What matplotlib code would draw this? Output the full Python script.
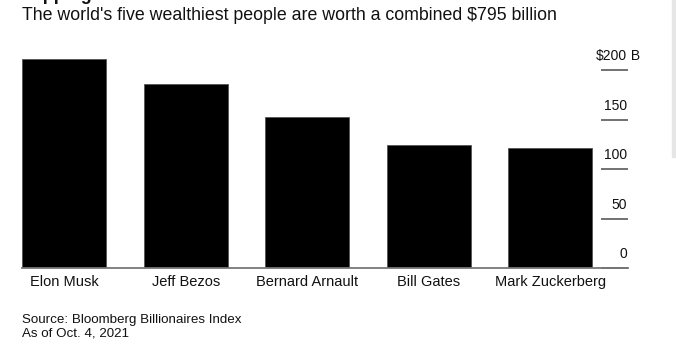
import matplotlib.pyplot as plt
from matplotlib.patches import Rectangle

# Data
names = ['Elon Musk', 'Jeff Bezos', 'Bernard Arnault', 'Bill Gates', 'Mark Zuckerberg']
net_worth = [211, 186, 153, 124, 121]  # billions USD
y_ticks = [0, 50, 100, 150, 200]
y_tick_labels = ['0', '50', '100', '150', '$200']

plt.rcParams['font.family'] = ['Liberation Sans', 'DejaVu Sans']

W, H = 676, 355
fig = plt.figure(figsize=(W / 100, H / 100), dpi=100)

# axes placed in pixel terms: x 22..628, y baseline at 268.3, top at 50
left, right, bottom_px, top_px = 22, 628, 268.3, 50
ax = fig.add_axes([left / W, (H - bottom_px) / H, (right - left) / W, (bottom_px - top_px) / H])

px_per_unit = 0.9915
ax.set_ylim(0, (bottom_px - top_px) / px_per_unit)
ax.set_xlim(-0.3477, -0.3477 + (right - left) / 121.5)

ax.bar(range(len(names)), net_worth, width=0.695, color='black',
       edgecolor='#555555', linewidth=0.6, zorder=2)

# Spines
for s in ['top', 'left', 'right']:
    ax.spines[s].set_visible(False)
ax.spines['bottom'].set_color('#777777')
ax.spines['bottom'].set_linewidth(1.3)

# Category labels
ax.set_xticks(range(len(names)))
ax.set_xticklabels(names, fontsize=10.5, color='#111111')
ax.tick_params(axis='x', length=0, pad=5)

# Right-side short tick lines with labels sitting above them
ax.yaxis.tick_right()
ax.set_yticks(y_ticks)
ax.set_yticklabels([])
ax.tick_params(axis='y', direction='in', length=19.5, width=1.3, color='#666666')
for v, lab in zip(y_ticks, y_tick_labels):
    ax.text(0.998, v + 14, lab, transform=ax.get_yaxis_transform(),
            ha='right', va='center', fontsize=10, color='#111111', clip_on=False)
ax.text(0.998, y_ticks[-1] + 14, ' B', transform=ax.get_yaxis_transform(),
        ha='left', va='center', fontsize=10, color='#111111', clip_on=False)

# Cut-off title (only descenders show, as in the reference) and subtitle
fig.text(22 / W, (H + 0.5) / H, 'Topping the Charts', fontsize=13, fontweight='bold',
         ha='left', va='baseline', color='#111111')
fig.text(22 / W, (H - 20.5) / H,
         "The world's five wealthiest people are worth a combined $795 billion",
         fontsize=12.8, ha='left', va='baseline', color='#111111')

# Footer
fig.text(22 / W, (H - 323.5) / H, 'Source: Bloomberg Billionaires Index',
         fontsize=9.6, ha='left', va='baseline', color='#111111')
fig.text(22 / W, (H - 337) / H, 'As of Oct. 4, 2021',
         fontsize=9.6, ha='left', va='baseline', color='#111111')

# light gray strip at the right edge
fig.patches.append(Rectangle((672 / W, (H - 157) / H), 4 / W, 157 / H,
                             transform=fig.transFigure, color='#e6e6e6', zorder=0))

fig.savefig('out.png', dpi=100)
